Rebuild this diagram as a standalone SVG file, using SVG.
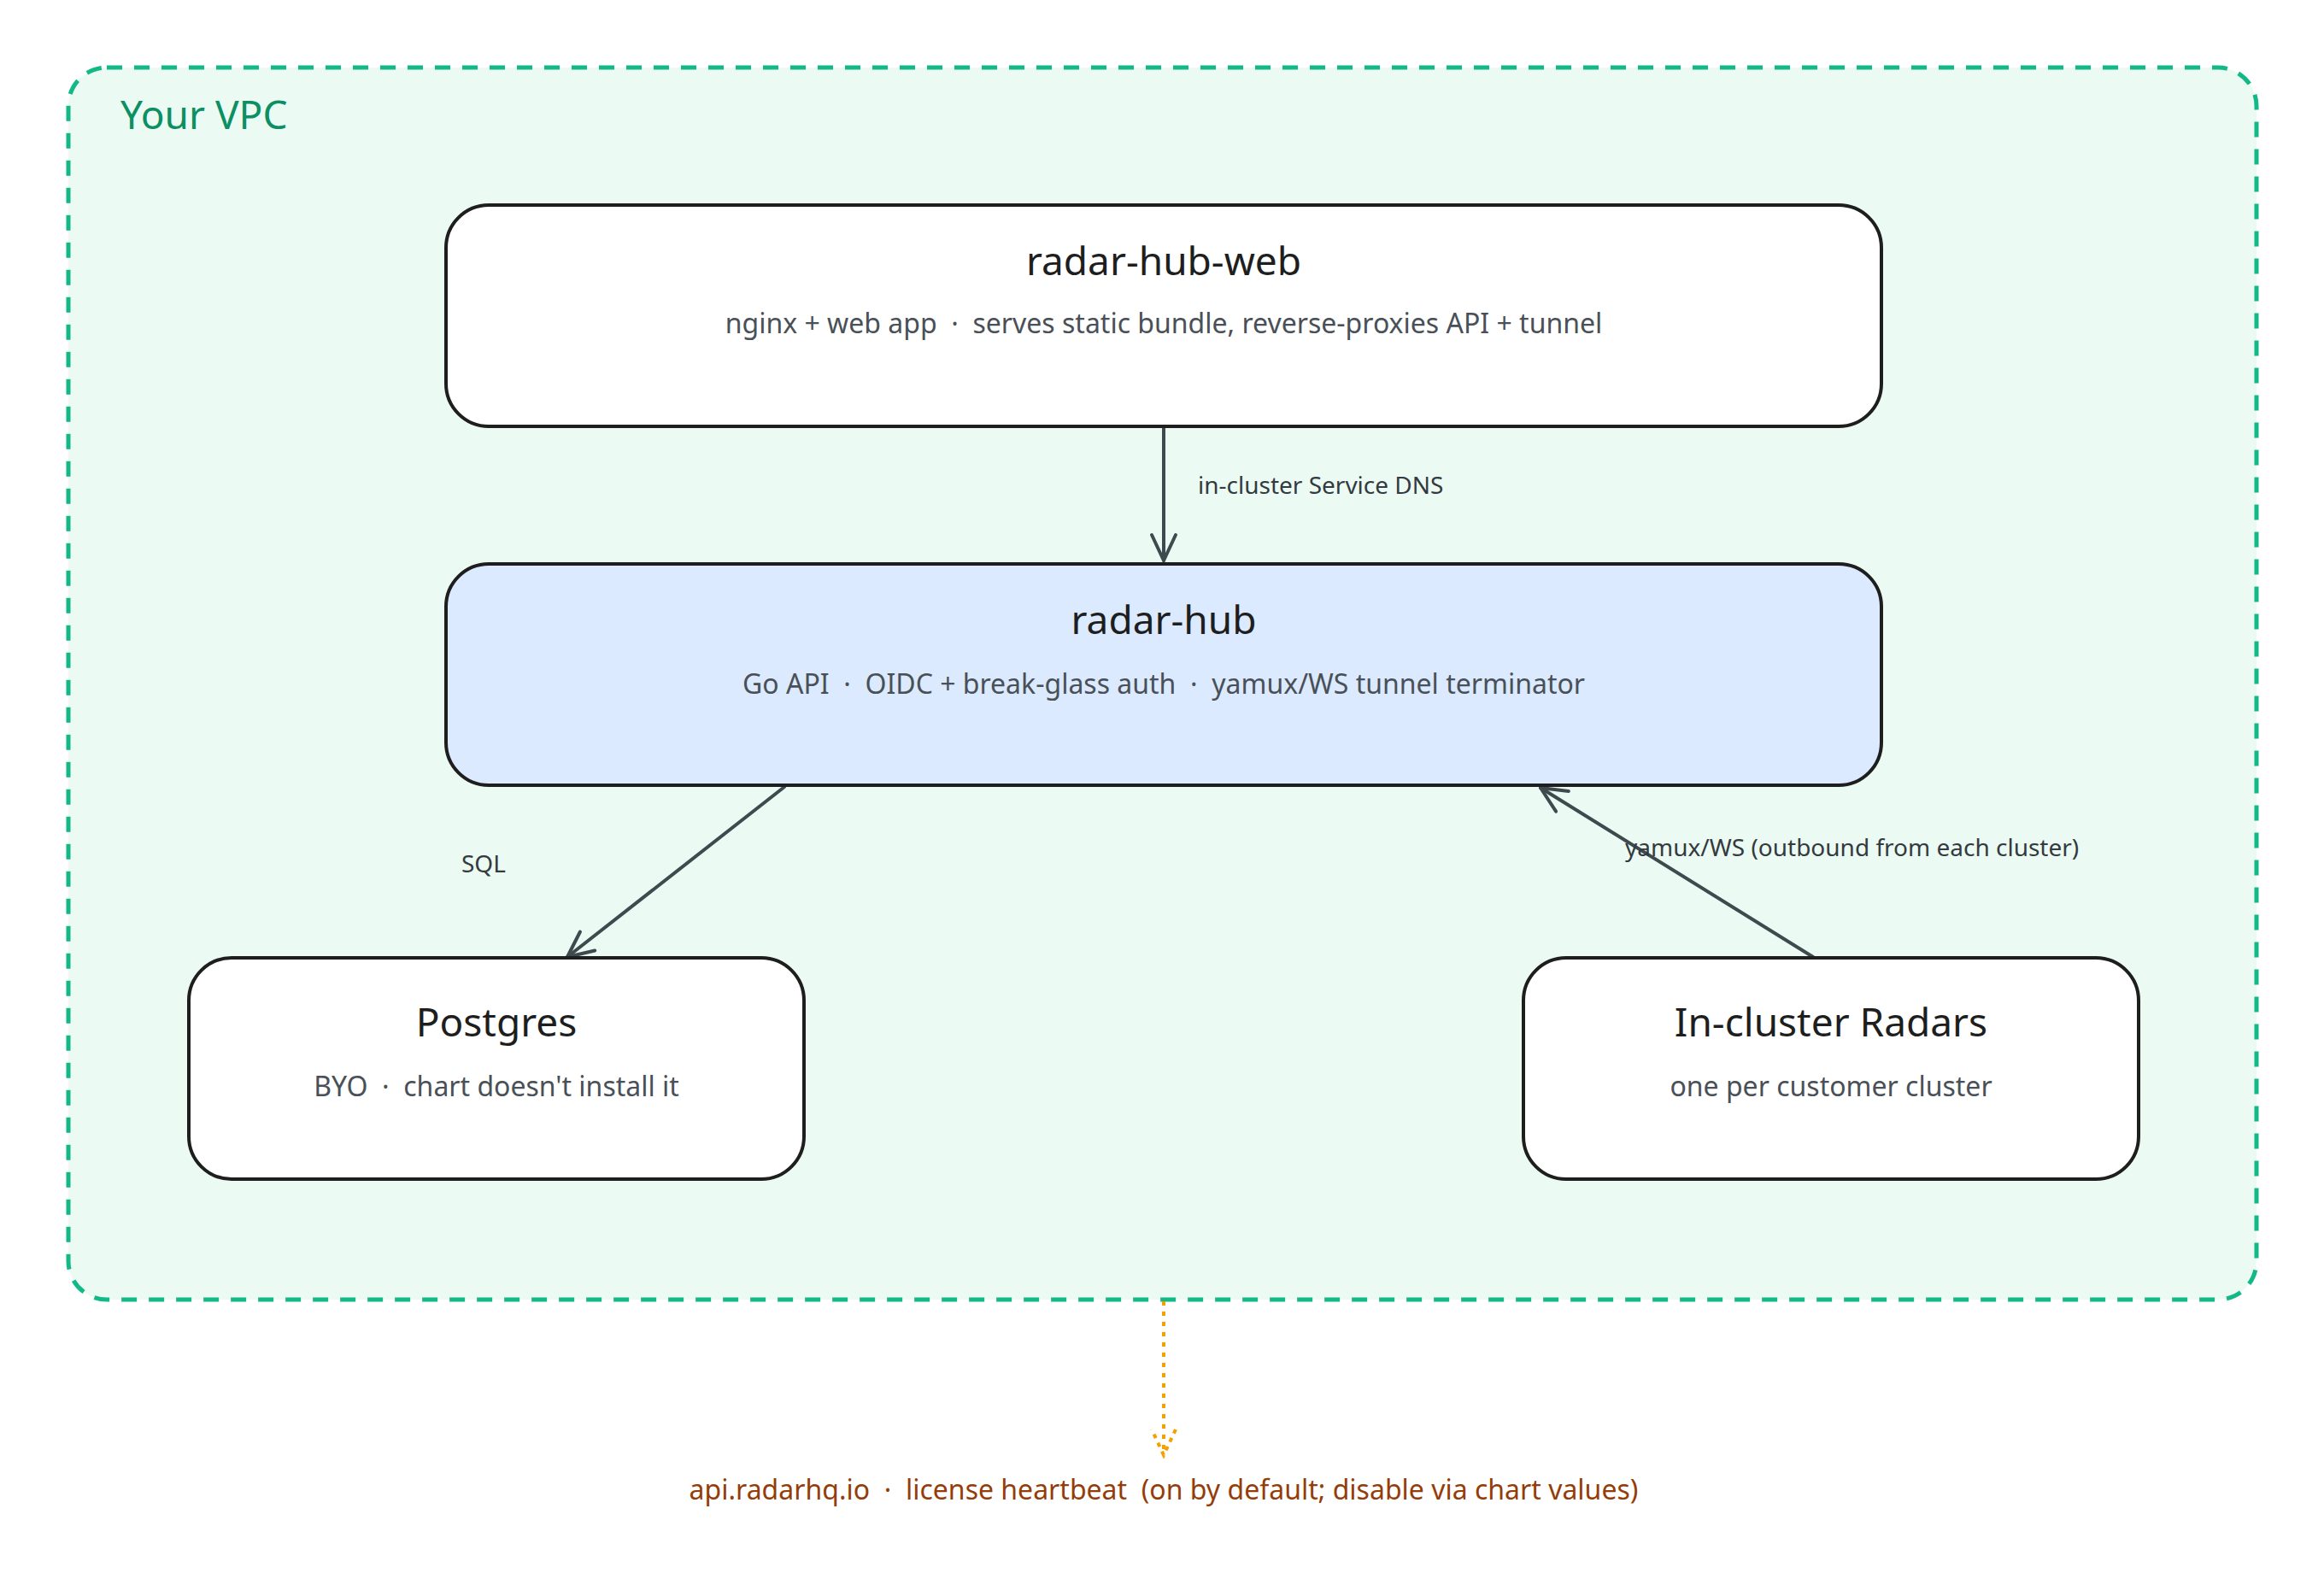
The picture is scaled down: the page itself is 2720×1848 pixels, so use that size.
<svg xmlns="http://www.w3.org/2000/svg" width="2720" height="1848" viewBox="0 0 2720 1848">
<style>
.node{stroke:#1e1e1e;stroke-width:4;}
.t{font-family:"Noto Sans",sans-serif;font-size:46px;fill:#1e1e1e;text-anchor:middle;}
.s{font-family:"Noto Sans",sans-serif;font-size:32px;fill:#495057;text-anchor:middle;}
.l{font-family:"Noto Sans",sans-serif;font-size:28px;fill:#343a40;}
.c{stroke:#3f4a4f;stroke-width:4;fill:none;stroke-linecap:round;}
</style>
<defs>
<marker id="arr" viewBox="0 0 20 20" refX="0" refY="0" markerWidth="20" markerHeight="20" markerUnits="userSpaceOnUse" orient="auto" overflow="visible">
<path d="M-30,-14 L0,0 L-30,14" fill="none" stroke="#3f4a4f" stroke-width="4" stroke-linecap="round" stroke-linejoin="round"/>
</marker>
<marker id="oarr" viewBox="0 0 20 20" refX="0" refY="0" markerWidth="20" markerHeight="20" markerUnits="userSpaceOnUse" orient="auto" overflow="visible">
<path d="M-30,-14 L0,0 L-30,14" fill="none" stroke="#f59f00" stroke-width="4" stroke-dasharray="5 6"/>
</marker>
</defs>
<rect width="2720" height="1848" fill="#ffffff"/>
<g id="vpc">
<rect x="80" y="79" width="2561" height="1442" rx="45" fill="#ebfbf3" stroke="#12b886" stroke-width="5" stroke-dasharray="18 14"/>
<text x="141" y="151" font-family="Noto Sans,sans-serif" font-size="46" fill="#0c8f63">Your VPC</text>
</g>
<g id="connectors">
<line class="c" x1="1362" y1="498" x2="1362" y2="656" marker-end="url(#arr)"/>
<text class="l" x="1402" y="578">in-cluster Service DNS</text>
<line class="c" x1="918" y1="921" x2="664" y2="1120" marker-end="url(#arr)"/>
<text class="l" x="540" y="1021">SQL</text>
<line class="c" x1="2122" y1="1120" x2="1803" y2="922" marker-end="url(#arr)"/>
<text class="l" x="1902" y="1002">yamux/WS (outbound from each cluster)</text>
<line x1="1362" y1="1523" x2="1362" y2="1703" stroke="#f59f00" stroke-width="4" stroke-dasharray="5 7" marker-end="url(#oarr)"/>
<text x="1362" y="1755" font-family="Noto Sans,sans-serif" font-size="32" fill="#953d0a" text-anchor="middle" xml:space="preserve">api.radarhq.io  ·  license heartbeat  (on by default; disable via chart values)</text>
</g>
<g id="radar-hub-web">
<rect class="node" x="522" y="240" width="1680" height="259" rx="50" fill="#ffffff"/>
<text class="t" x="1362" y="322">radar-hub-web</text>
<text class="s" x="1362" y="390" xml:space="preserve">nginx + web app  ·  serves static bundle, reverse-proxies API + tunnel</text>
</g>
<g id="radar-hub">
<rect class="node" x="522" y="660" width="1680" height="259" rx="50" fill="#dbeafe"/>
<text class="t" x="1362" y="742">radar-hub</text>
<text class="s" x="1362" y="812" xml:space="preserve">Go API  ·  OIDC + break-glass auth  ·  yamux/WS tunnel terminator</text>
</g>
<g id="postgres">
<rect class="node" x="221" y="1121" width="720" height="259" rx="50" fill="#ffffff"/>
<text class="t" x="581" y="1213" font-size="42">Postgres</text>
<text class="s" x="581" y="1283" font-size="28" xml:space="preserve">BYO  ·  chart doesn't install it</text>
</g>
<g id="radars">
<rect class="node" x="1783" y="1121" width="720" height="259" rx="50" fill="#ffffff"/>
<text class="t" x="2143" y="1213" font-size="42">In-cluster Radars</text>
<text class="s" x="2143" y="1283" font-size="28">one per customer cluster</text>
</g>
</svg>
